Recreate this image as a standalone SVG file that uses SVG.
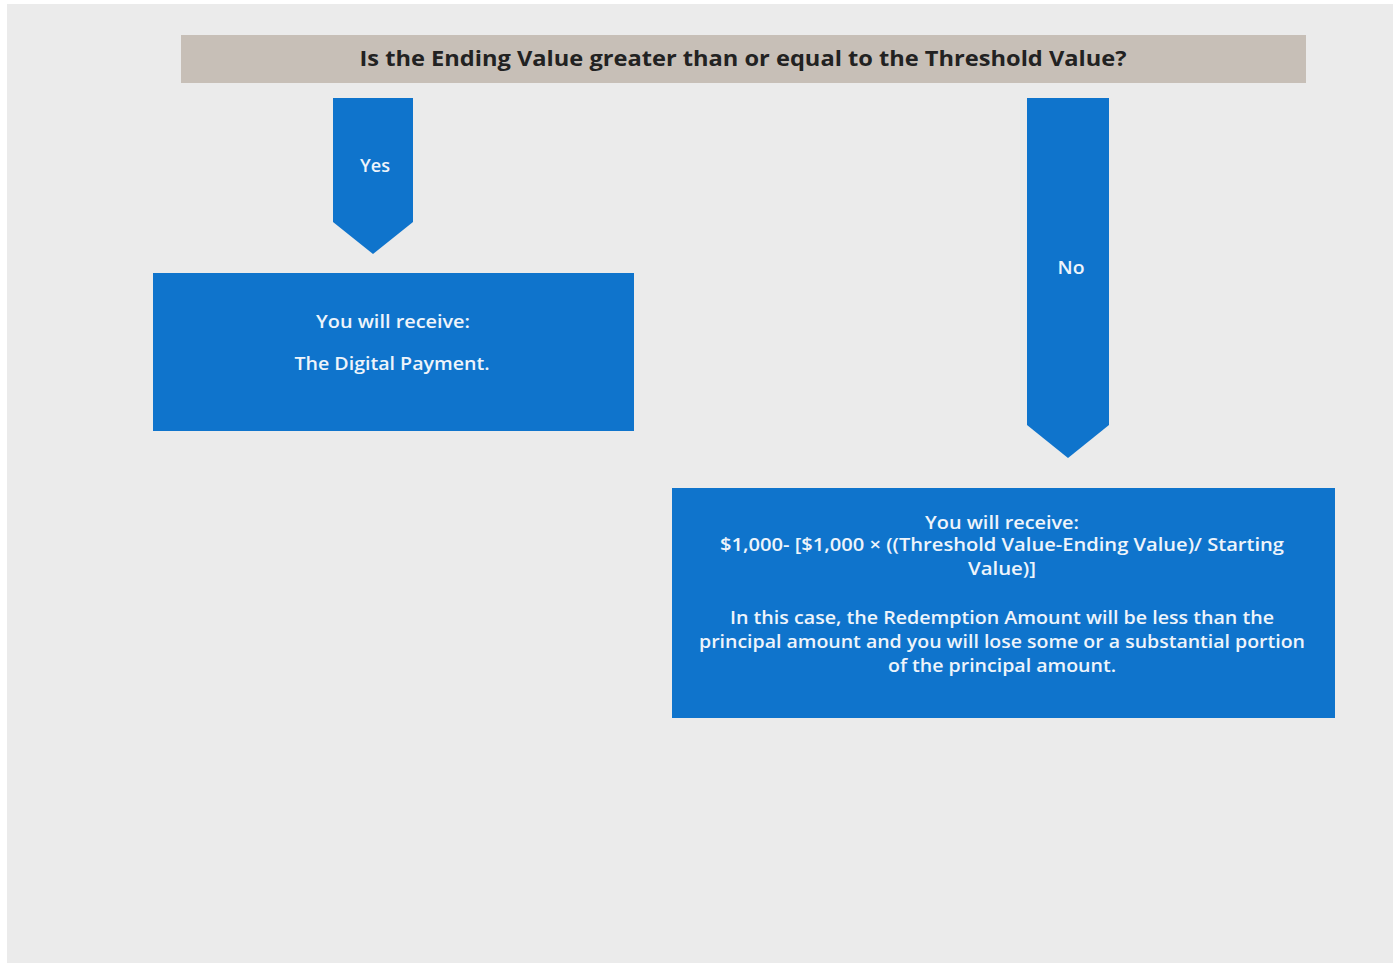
<svg xmlns="http://www.w3.org/2000/svg" width="1397" height="963" viewBox="0 0 1397 963">
<style>
.bg{fill:#ebebeb}
.hdr{fill:#c7bfb7}
.blue{fill:#0f74cc}
.ht{font-family:"Open Sans","Liberation Sans",sans-serif;font-weight:700;font-size:21px;fill:#222;text-anchor:middle}
.t{font-family:"Open Sans","Liberation Sans",sans-serif;font-weight:600;font-size:18px;fill:#eef4fb;text-anchor:middle}
</style>
<rect x="0" y="0" width="1397" height="963" fill="#ffffff"/>
<rect class="bg" x="7" y="4" width="1386" height="959"/>
<g id="question">
<rect class="hdr" x="181" y="35" width="1125" height="48"/>
<text class="ht" x="743" y="66" textLength="767" lengthAdjust="spacingAndGlyphs">Is the Ending Value greater than or equal to the Threshold Value?</text>
</g>
<g id="connectors">
<g id="yes-arrow">
<polygon class="blue" points="333,98 413,98 413,222 373,254 333,222"/>
<text class="t" x="375" y="172" textLength="30" lengthAdjust="spacingAndGlyphs">Yes</text>
</g>
<g id="no-arrow">
<polygon class="blue" points="1027,98 1109,98 1109,425 1068,458 1027,425"/>
<text class="t" x="1071" y="274" textLength="27" lengthAdjust="spacingAndGlyphs">No</text>
</g>
</g>
<g id="yes-result">
<rect class="blue" x="153" y="273" width="481" height="158"/>
<text class="t" x="393" y="328" textLength="154" lengthAdjust="spacingAndGlyphs">You will receive:</text>
<text class="t" x="392" y="370" textLength="195" lengthAdjust="spacingAndGlyphs">The Digital Payment.</text>
</g>
<g id="no-result">
<rect class="blue" x="672" y="488" width="663" height="230"/>
<text class="t" x="1002" y="529" textLength="154" lengthAdjust="spacingAndGlyphs">You will receive:</text>
<text class="t" x="1002" y="551" textLength="564" lengthAdjust="spacingAndGlyphs">$1,000- [$1,000 × ((Threshold Value-Ending Value)/ Starting</text>
<text class="t" x="1002" y="575" textLength="68" lengthAdjust="spacingAndGlyphs">Value)]</text>
<text class="t" x="1002" y="624" textLength="544" lengthAdjust="spacingAndGlyphs">In this case, the Redemption Amount will be less than the</text>
<text class="t" x="1002" y="648" textLength="606" lengthAdjust="spacingAndGlyphs">principal amount and you will lose some or a substantial portion</text>
<text class="t" x="1002" y="672" textLength="228" lengthAdjust="spacingAndGlyphs">of the principal amount.</text>
</g>
</svg>
